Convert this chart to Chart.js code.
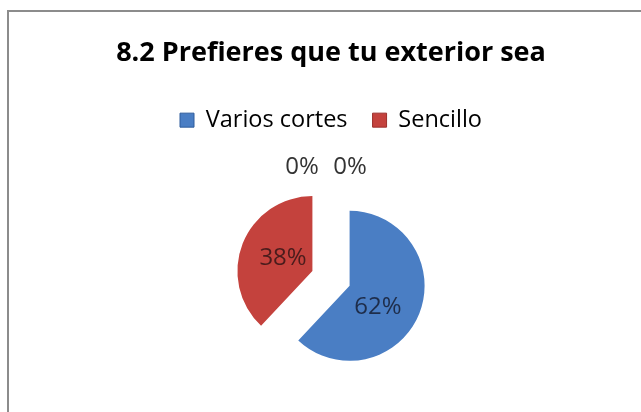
<!DOCTYPE html>
<html>
<head>
<meta charset="utf-8">
<script src="https://cdn.jsdelivr.net/npm/chart.js@4/dist/chart.umd.min.js"></script>
<style>
  html, body { margin: 0; padding: 0; background: #fff; overflow: hidden; }
  #wrap { position: relative; width: 641px; height: 412px; overflow: hidden; }
  #frame {
    position: absolute; left: 7px; top: 10px; width: 700px; height: 500px;
    border: 2px solid #8c8c8c; pointer-events: none;
  }
</style>
</head>
<body>
<div id="wrap">
  <canvas id="chart" width="641" height="415"></canvas>
  <div id="frame"></div>
</div>
<script>
const categories = ['Varios cortes', 'Sencillo', '', ''];
const values = [62, 38, 0, 0];
const sliceColors = ['#4a7ec4', '#c4423d'];
const sliceLight = ['#6293d6', '#d65752'];
const sliceDark = ['#2f5d9c', '#9c2f2b'];
const labelColors = ['#1e2d4a', '#4a1c1c', '#333333', '#333333'];

const total = values.reduce((a, b) => a + b, 0);
const explode = 20;
const zeroNudge = [-29, 19];
const labelNudge = [[-3, 9], [2, -1]];

// push the non-empty slices out from the centre
const explodePlugin = {
  id: 'explode',
  afterDatasetUpdate(chart, args) {
    args.meta.data.forEach((arc, i) => {
      if (!values[i]) return;
      const mid = (arc.startAngle + arc.endAngle) / 2;
      arc.x += Math.cos(mid) * explode;
      arc.y += Math.sin(mid) * explode;
    });
  }
};

const pctPlugin = {
  id: 'pct',
  afterDatasetsDraw(chart) {
    const ctx = chart.ctx;
    const arcs = chart.getDatasetMeta(0).data;
    ctx.save();
    ctx.font = '24px "Open Sans"';
    ctx.textAlign = 'center';
    ctx.textBaseline = 'middle';
    let z = 0;
    arcs.forEach((arc, i) => {
      const txt = Math.round(values[i] / total * 100) + '%';
      const mid = (arc.startAngle + arc.endAngle) / 2;
      let x, y;
      if (values[i]) {
        const r = arc.outerRadius * 0.45;
        x = arc.x + Math.cos(mid) * r + labelNudge[i][0];
        y = arc.y + Math.sin(mid) * r + labelNudge[i][1];
      } else {
        const r = arc.outerRadius + 36;
        x = arc.x + Math.cos(mid) * r + zeroNudge[z++];
        y = arc.y + Math.sin(mid) * r;
      }
      ctx.fillStyle = labelColors[i];
      ctx.fillText(txt, x, y);
    });
    ctx.restore();
  }
};

function shade(c) {
  const i = c.dataIndex;
  const arc = c.chart.getDatasetMeta(0).data[i];
  if (!arc || !arc.outerRadius || i > 1) return sliceColors[i % 2];
  const g = c.chart.ctx.createRadialGradient(arc.x, arc.y, 0, arc.x, arc.y, arc.outerRadius);
  g.addColorStop(0, sliceLight[i]);
  g.addColorStop(0.75, sliceColors[i]);
  g.addColorStop(1, sliceDark[i]);
  return g;
}

new Chart(document.getElementById('chart'), {
  type: 'pie',
  data: {
    labels: categories,
    datasets: [{
      data: values,
      backgroundColor: shade,
      borderWidth: 0,
      radius: 75
    }]
  },
  options: {
    responsive: false,
    animation: false,
    events: [],
    layout: { padding: { left: 21, right: 0, top: 0, bottom: 0 } },
    plugins: {
      title: {
        display: true,
        text: '8.2 Prefieres que tu exterior sea',
        color: '#000',
        font: { family: 'Open Sans', size: 27, weight: 'bold' },
        padding: { top: 37, bottom: 14 }
      },
      legend: {
        position: 'top',
        labels: {
          color: '#222',
          font: { family: 'Open Sans', size: 23.5 },
          boxWidth: 14,
          boxHeight: 14,
          padding: 25,
          generateLabels: () => categories
            .map((c, i) => ({ text: c, fillStyle: sliceColors[i % 2], strokeStyle: sliceDark[i % 2], lineWidth: 1, hidden: false, index: i }))
            .filter(l => l.text)
        }
      },
      tooltip: { enabled: false }
    }
  },
  plugins: [explodePlugin, pctPlugin]
});
</script>
</body>
</html>
